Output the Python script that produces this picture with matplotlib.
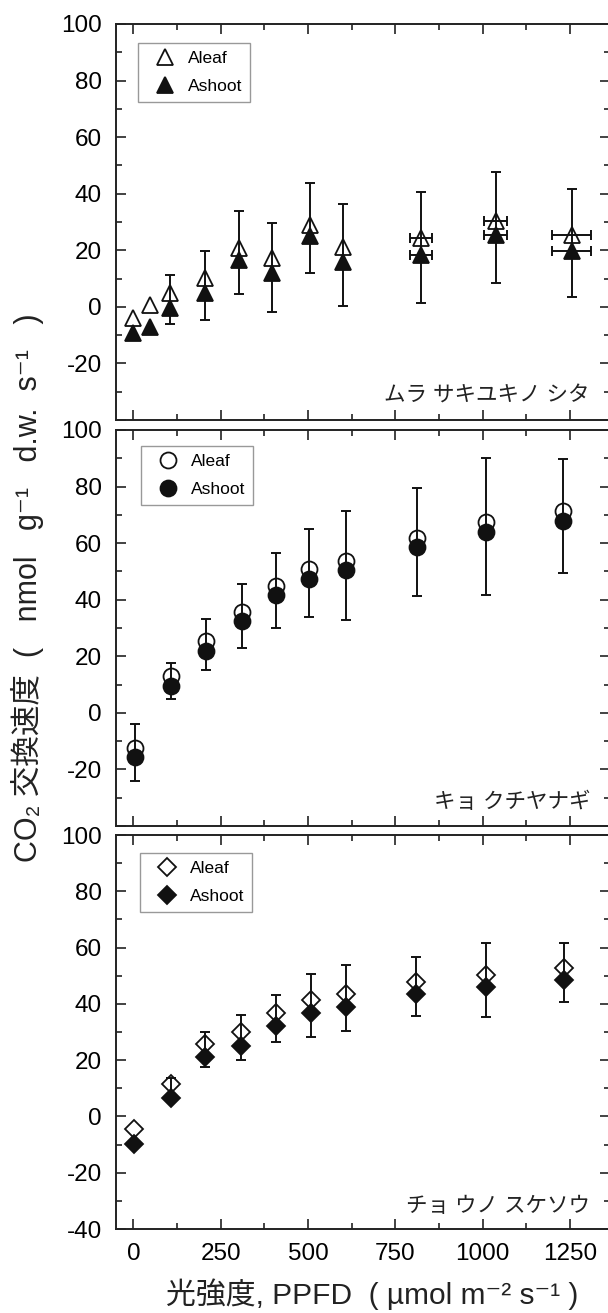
import numpy as np
import matplotlib
matplotlib.use("Agg")
import matplotlib.pyplot as plt
from matplotlib.ticker import MultipleLocator

plt.rcParams['font.family'] = ['Liberation Sans', 'Noto Sans CJK JP', 'DejaVu Sans']
plt.rcParams['axes.unicode_minus'] = False

nan = np.nan

# ---- data ----
species = ["ムラ サキユキノ シタ", "キョ クチヤナギ", "チョ ウノ スケソウ"]
series_names = ["Aleaf", "Ashoot"]

x1 = [0, 47, 104, 205, 303, 396, 506, 599, 823, 1038, 1255]
leaf1 = [-3.9, 0.7, 4.8, 10.2, 20.8, 17.2, 29.0, 21.3, 24.3, 30.2, 25.5]
shoot1 = [-9.2, -7.0, -0.5, 4.9, 16.6, 11.9, 24.9, 16.0, 18.4, 25.5, 19.6]
err_hi1 = [nan, nan, 11.3, 19.6, 34.0, 29.8, 43.8, 36.5, 40.6, 47.5, 41.8]
err_lo1 = [nan, nan, -6.0, -4.8, 4.6, -1.9, 11.9, 0.4, 1.3, 8.6, 3.4]
xerr1 = [0, 0, 0, 0, 0, 0, 0, 0, 32, 33, 57]

x2 = [4, 107, 208, 310, 408, 504, 608, 813, 1009, 1230]
leaf2 = [-12.3, 12.9, 25.5, 35.8, 44.8, 51.0, 53.7, 61.9, 67.4, 71.3]
shoot2 = [-15.5, 9.6, 22.0, 32.6, 41.6, 47.4, 50.6, 58.8, 63.9, 67.7]
err_hi2 = [-4.1, 17.8, 33.2, 45.7, 56.6, 64.9, 71.5, 79.4, 90.0, 89.6]
err_lo2 = [-24.1, 4.9, 15.0, 22.9, 29.9, 33.9, 33.0, 41.4, 41.7, 49.5]
xerr2 = [0] * 10

x3 = [1, 107, 205, 308, 408, 508, 609, 810, 1010, 1234]
leaf3 = [-4.6, 11.5, 25.6, 29.9, 36.7, 41.4, 43.5, 47.9, 50.3, 52.9]
shoot3 = [-9.8, 6.4, 21.0, 25.1, 32.2, 36.6, 39.0, 43.5, 45.9, 48.5]
err_hi3 = [nan, 13.5, 30.1, 36.0, 43.1, 50.6, 53.7, 56.5, 61.7, 61.5]
err_lo3 = [nan, 8.0, 17.4, 20.0, 26.5, 28.3, 30.4, 35.8, 35.4, 40.5]
xerr3 = [0] * 10

xticks = [0, 250, 500, 750, 1000, 1250]
yticks = [-40, -20, 0, 20, 40, 60, 80, 100]
ylabel = "CO₂ 交換速度  (   nmol   g⁻¹   d.w.  s⁻¹   )"
xlabel = "光強度, PPFD  ( µmol m⁻² s⁻¹ )"

panels = [
    dict(x=x1, leaf=leaf1, shoot=shoot1, hi=err_hi1, lo=err_lo1, xerr=xerr1,
         marker='^', ms=12, label=species[0]),
    dict(x=x2, leaf=leaf2, shoot=shoot2, hi=err_hi2, lo=err_lo2, xerr=xerr2,
         marker='o', ms=11.5, label=species[1]),
    dict(x=x3, leaf=leaf3, shoot=shoot3, hi=err_hi3, lo=err_lo3, xerr=xerr3,
         marker='D', ms=9.5, label=species[2]),
]

# ---- layout in pixels ----
W, H = 608, 1313
fig = plt.figure(figsize=(W / 100, H / 100), dpi=100)
left, right = 116, 610
rows = [(24, 420), (430, 826), (835, 1229)]
legend_anchor = [(138, 43), (141, 446), (140, 853)]
label_y = [396, 802, 1207]

for i, (p, (top, bot)) in enumerate(zip(panels, rows)):
    ax = fig.add_axes([left / W, 1 - bot / H, (right - left) / W, (bot - top) / H])
    ax.set_xlim(-50, 1365)
    ax.set_ylim(-40, 100)
    for s in ax.spines.values():
        s.set_linewidth(1.4)
        s.set_color('#222222')
    ax.set_xticks(xticks)
    ax.xaxis.set_minor_locator(MultipleLocator(125))
    ax.set_yticks(yticks)
    ax.yaxis.set_minor_locator(MultipleLocator(10))
    ylabels = [str(v) for v in yticks]
    if i < 2:
        ylabels[0] = ''
    ax.set_yticklabels(ylabels)
    ax.tick_params(which='both', direction='in', top=True, right=True,
                   color='#222222', width=1.2)
    ax.tick_params(which='major', length=7)
    ax.tick_params(which='minor', length=4)
    ax.tick_params(axis='y', labelsize=17.5, pad=10)
    ax.tick_params(axis='x', labelsize=17.5, pad=10, labelbottom=(i == 2))

    x = np.array(p['x'], float)
    leaf = np.array(p['leaf'], float)
    shoot = np.array(p['shoot'], float)
    hi = np.array(p['hi'], float)
    lo = np.array(p['lo'], float)
    xe = np.array(p['xerr'], float)

    ax.plot(x, leaf, linestyle='none', marker=p['marker'], ms=p['ms'],
            mfc='white', mec='#111111', mew=1.3, zorder=3, label=series_names[0])
    ok = ~np.isnan(hi)
    mid = (hi + lo) / 2
    ax.errorbar(x[ok], mid[ok], yerr=[mid[ok] - lo[ok], hi[ok] - mid[ok]],
                fmt='none', ecolor='#111111', elinewidth=1.4, capsize=3.8,
                capthick=1.4, zorder=4)
    hx = xe > 0
    if hx.any():
        for yy in (leaf, shoot):
            ax.errorbar(x[hx], yy[hx], xerr=xe[hx], fmt='none', ecolor='#111111',
                        elinewidth=1.4, capsize=3.8, capthick=1.4, zorder=4)
    ax.plot(x, shoot, linestyle='none', marker=p['marker'], ms=p['ms'],
            mfc='#111111', mec='#111111', mew=1.3, zorder=5, label=series_names[1])

    lx, ly = legend_anchor[i]
    leg = ax.legend(loc='upper left',
                    bbox_to_anchor=((lx - left) / (right - left), (bot - ly) / (bot - top)),
                    borderaxespad=0, fontsize=12.5, frameon=True, fancybox=False,
                    edgecolor='#808080', handlelength=2.2, handletextpad=0.2,
                    borderpad=0.45, labelspacing=0.75, numpoints=1)
    leg.get_frame().set_linewidth(1.0)

    ax.text(590 / W, 0, p['label'], transform=fig.transFigure,
            ha='right', va='center', fontsize=15.5, color='#222222')
    ax.texts[-1].set_y(1 - label_y[i] / H)

fig.text(27 / W, 1 - 588 / H, ylabel, rotation=90, ha='center', va='center',
         fontsize=22, color='#222222')
fig.text(372 / W, 1 - 1294 / H, xlabel, ha='center', va='center',
         fontsize=21.5, color='#222222')

fig.savefig('out.png', dpi=100)
